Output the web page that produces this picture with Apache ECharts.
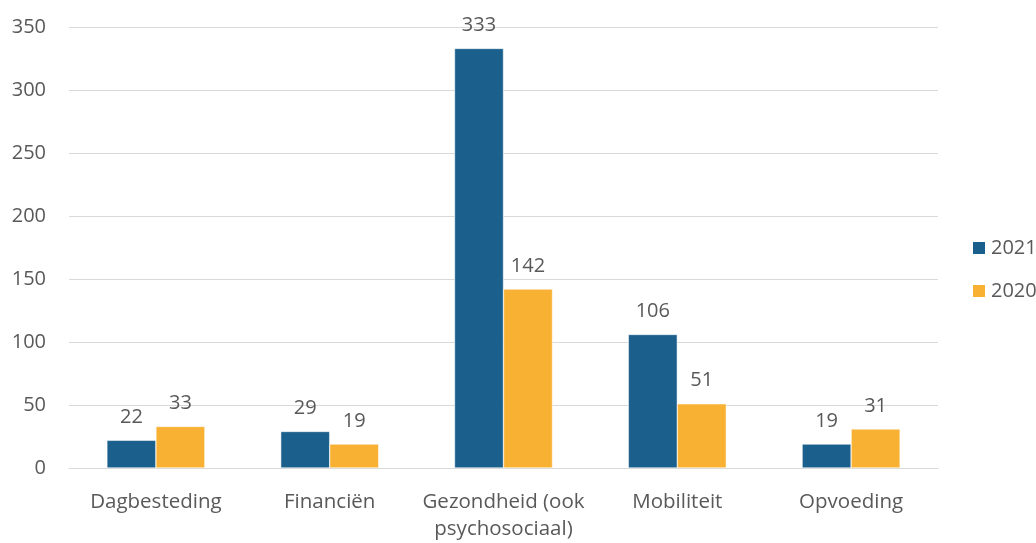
<!DOCTYPE html>
<html>
<head>
<meta charset="utf-8">
<script src="https://cdn.jsdelivr.net/npm/echarts@6/dist/echarts.min.js"></script>
<style>
  html, body { margin: 0; padding: 0; background: #fff; }
  #chart { width: 1036px; height: 543px; }
</style>
</head>
<body>
<div id="chart"></div>
<script>
// categorieën en waarden
const categories = ['Dagbesteding', 'Financiën', 'Gezondheid (ook\npsychosociaal)', 'Mobiliteit', 'Opvoeding'];
const values2021 = [22, 29, 333, 106, 19];
const values2020 = [33, 19, 142, 51, 31];
const yTicks = { min: 0, max: 350, interval: 50 };

const textColor = '#595959';
const fontFamily = '"Open Sans", "Liberation Sans", sans-serif';

const myChart = echarts.init(document.getElementById('chart'), null, { renderer: 'canvas' });

const labelStyle = {
    show: true,
    position: 'top',
    distance: 13,
    color: textColor,
    fontSize: 20,
    fontFamily: fontFamily,
};

const option = {
    animation: false,
    textStyle: { fontFamily: fontFamily },
    legend: {
        orient: 'vertical',
        left: 966,
        top: 233,
        itemWidth: 14,
        itemHeight: 14,
        itemGap: 23,
        icon: 'rect',
        textStyle: { color: textColor, fontSize: 20, fontFamily: fontFamily },
        data: ['2021', '2020'],
    },
    grid: {
        left: 69,
        right: 98,
        top: 27,
        bottom: 72,
        containLabel: false,
    },
    xAxis: {
        type: 'category',
        data: categories,
        axisLine: { lineStyle: { color: '#D9D9D9', width: 1 } },
        axisTick: { show: false },
        axisLabel: {
            interval: 0,
            color: textColor,
            fontSize: 20.5,
            fontFamily: fontFamily,
            margin: 21,
            lineHeight: 27,
        },
    },
    yAxis: {
        type: 'value',
        min: yTicks.min,
        max: yTicks.max,
        interval: yTicks.interval,
        axisLine: { show: false },
        axisTick: { show: false },
        axisLabel: {
            color: textColor,
            fontSize: 20,
            fontFamily: fontFamily,
            margin: 23,
        },
        splitLine: { lineStyle: { color: '#D9D9D9', width: 1 } },
    },
    series: [
        {
            name: '2021',
            type: 'bar',
            data: values2021,
            barGap: '0%',
            barCategoryGap: '43.6%',
            itemStyle: { color: '#1B5F8C', borderColor: '#fff', borderWidth: 0.5 },
            label: labelStyle,
        },
        {
            name: '2020',
            type: 'bar',
            data: values2020,
            itemStyle: { color: '#F8B133', borderColor: '#fff', borderWidth: 0.5 },
            label: labelStyle,
        },
    ],
};

myChart.setOption(option);
window.addEventListener('resize', () => {
    myChart.resize();
});
</script>
</body>
</html>
